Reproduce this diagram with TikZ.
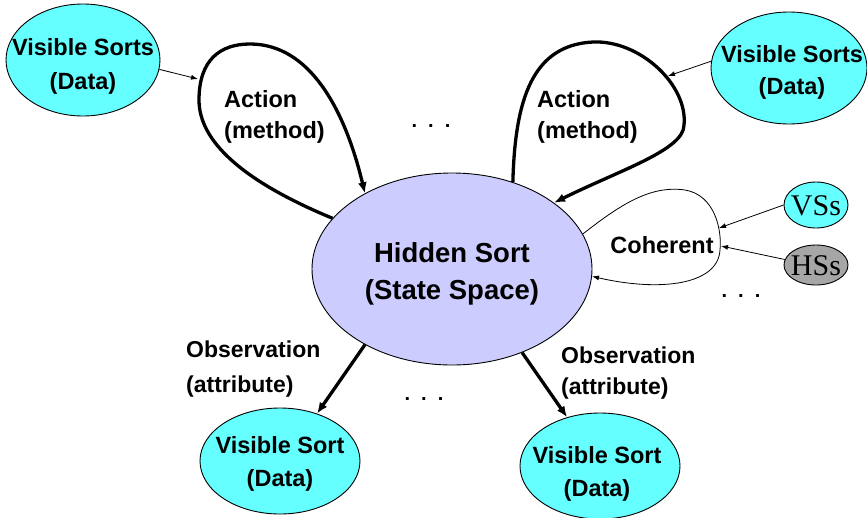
\documentclass[tikz,border=0pt]{standalone}
\usepackage{fontspec}
\setmainfont{Liberation Sans}
\newfontfamily\tmsfont{Liberation Serif}
\usetikzlibrary{arrows.meta,shapes.geometric}
\definecolor{vscyan}{RGB}{102,255,255}
\definecolor{hslav}{RGB}{204,204,255}
\definecolor{hsgray}{RGB}{166,166,166}
\begin{document}
\begin{tikzpicture}[x=1pt,y=-1pt,
  sortell/.style={ellipse,draw=black,line width=0.9pt,inner sep=0pt},
  lbl/.style={font=\bfseries\fontsize{23.5}{31}\selectfont,inner sep=0pt},
  thickarr/.style={line width=3.3pt,-{Latex[length=11pt,width=9pt]}},
  thinarr/.style={line width=0.8pt,-{Latex[length=7pt,width=5pt]}},
  dots/.style={font=\bfseries\fontsize{20}{20}\selectfont,inner sep=0pt}]
\useasboundingbox (0,0) rectangle (867,517);
% ellipses
\node[sortell,fill=hslav,minimum width=280pt,minimum height=192pt] (hs) at (452,269) {};
\node[sortell,fill=vscyan,minimum width=154pt,minimum height=112pt] (tl) at (83,60) {};
\node[sortell,fill=vscyan,minimum width=156pt,minimum height=112pt] (tr) at (789,68) {};
\node[sortell,fill=vscyan,minimum width=64pt,minimum height=46pt] (vss) at (816,205) {};
\node[sortell,fill=hsgray,minimum width=64pt,minimum height=40pt] (hss) at (816,265) {};
\node[sortell,fill=vscyan,minimum width=160pt,minimum height=106pt] (bl) at (280,461) {};
\node[sortell,fill=vscyan,minimum width=160pt,minimum height=106pt] (br) at (600,466) {};
% texts
\node[lbl,align=center,font=\bfseries\fontsize{23.5}{34}\selectfont] (tlt) at (83,66) {Visible Sorts\\(Data)};
\node[lbl,align=center,font=\bfseries\fontsize{23.5}{32}\selectfont] (trt) at (792,72) {Visible Sorts\\(Data)};
\node[lbl,align=center,font=\bfseries\fontsize{27.5}{37}\selectfont] (hst) at (452,274) {Hidden Sort\\(State Space)};
\node[lbl,align=center,font=\bfseries\fontsize{23.5}{33}\selectfont] (blt) at (280,464) {Visible Sort\\(Data)};
\node[lbl,align=center,font=\bfseries\fontsize{23.5}{33}\selectfont] (brt) at (597,474) {Visible Sort\\(Data)};
\node[inner sep=0pt,font=\tmsfont\fontsize{30}{30}\selectfont] (vsst) at (816,206) {VSs};
\node[inner sep=0pt,font=\tmsfont\fontsize{30}{30}\selectfont] (hsst) at (816,266) {HSs};
\node[lbl,align=left,anchor=west] (al) at (224,117) {Action\\(method)};
\node[lbl,align=left,anchor=west] (ar) at (537,117) {Action\\(method)};
\node[lbl] (coh) at (662,245) {Coherent};
\node[lbl,align=left,anchor=west,font=\bfseries\fontsize{23}{35}\selectfont] (ol) at (186,369) {Observation\\(attribute)};
\node[lbl,align=left,anchor=west,font=\bfseries\fontsize{23}{31}\selectfont] (or) at (561,373) {Observation\\(attribute)};
\node[dots] (d1) at (431,126) {.\hspace{11pt}.\hspace{11pt}.};
\node[dots] (d2) at (424,399) {.\hspace{11pt}.\hspace{11pt}.};
\node[dots] (d3) at (741,296) {.\hspace{11pt}.\hspace{11pt}.};
% coordinates on loops
\coordinate (lin) at (198,79);
\coordinate (rin) at (668,76);
\coordinate (cv) at (719,228);
\coordinate (ch) at (721,246);
% action loops
\draw[thickarr] (hs.157) .. controls (240,180) and (199,140) .. (199,100)
  .. controls (199,60) and (220,44) .. (250,44)
  .. controls (310,44) and (345,110) .. (hs.139.5);
\draw[thickarr] (hs.55) .. controls (515,100) and (532,45) .. (593,42)
  .. controls (640,40) and (688,85) .. (684,125)
  .. controls (684,150) and (620,170) .. (hs.33);
% coherent loop
\draw[thinarr] (hs.15) .. controls (620,205) and (650,185) .. (685,190)
  .. controls (715,195) and (722,230) .. (720,250)
  .. controls (718,285) and (660,292) .. (hs.-3);
% thin arrows
\draw[thinarr] (tl.-7) -- (lin);
\draw[thinarr] (tr.175) -- (rin);
\draw[thinarr] (vss.180) -- (cv);
\draw[thinarr] (hss.170) -- (ch);
% observation arrows
\draw[thickarr] (hs.-139) -- (bl.52);
\draw[thickarr] (hs.-50) -- (br.124);
\end{tikzpicture}
\end{document}
